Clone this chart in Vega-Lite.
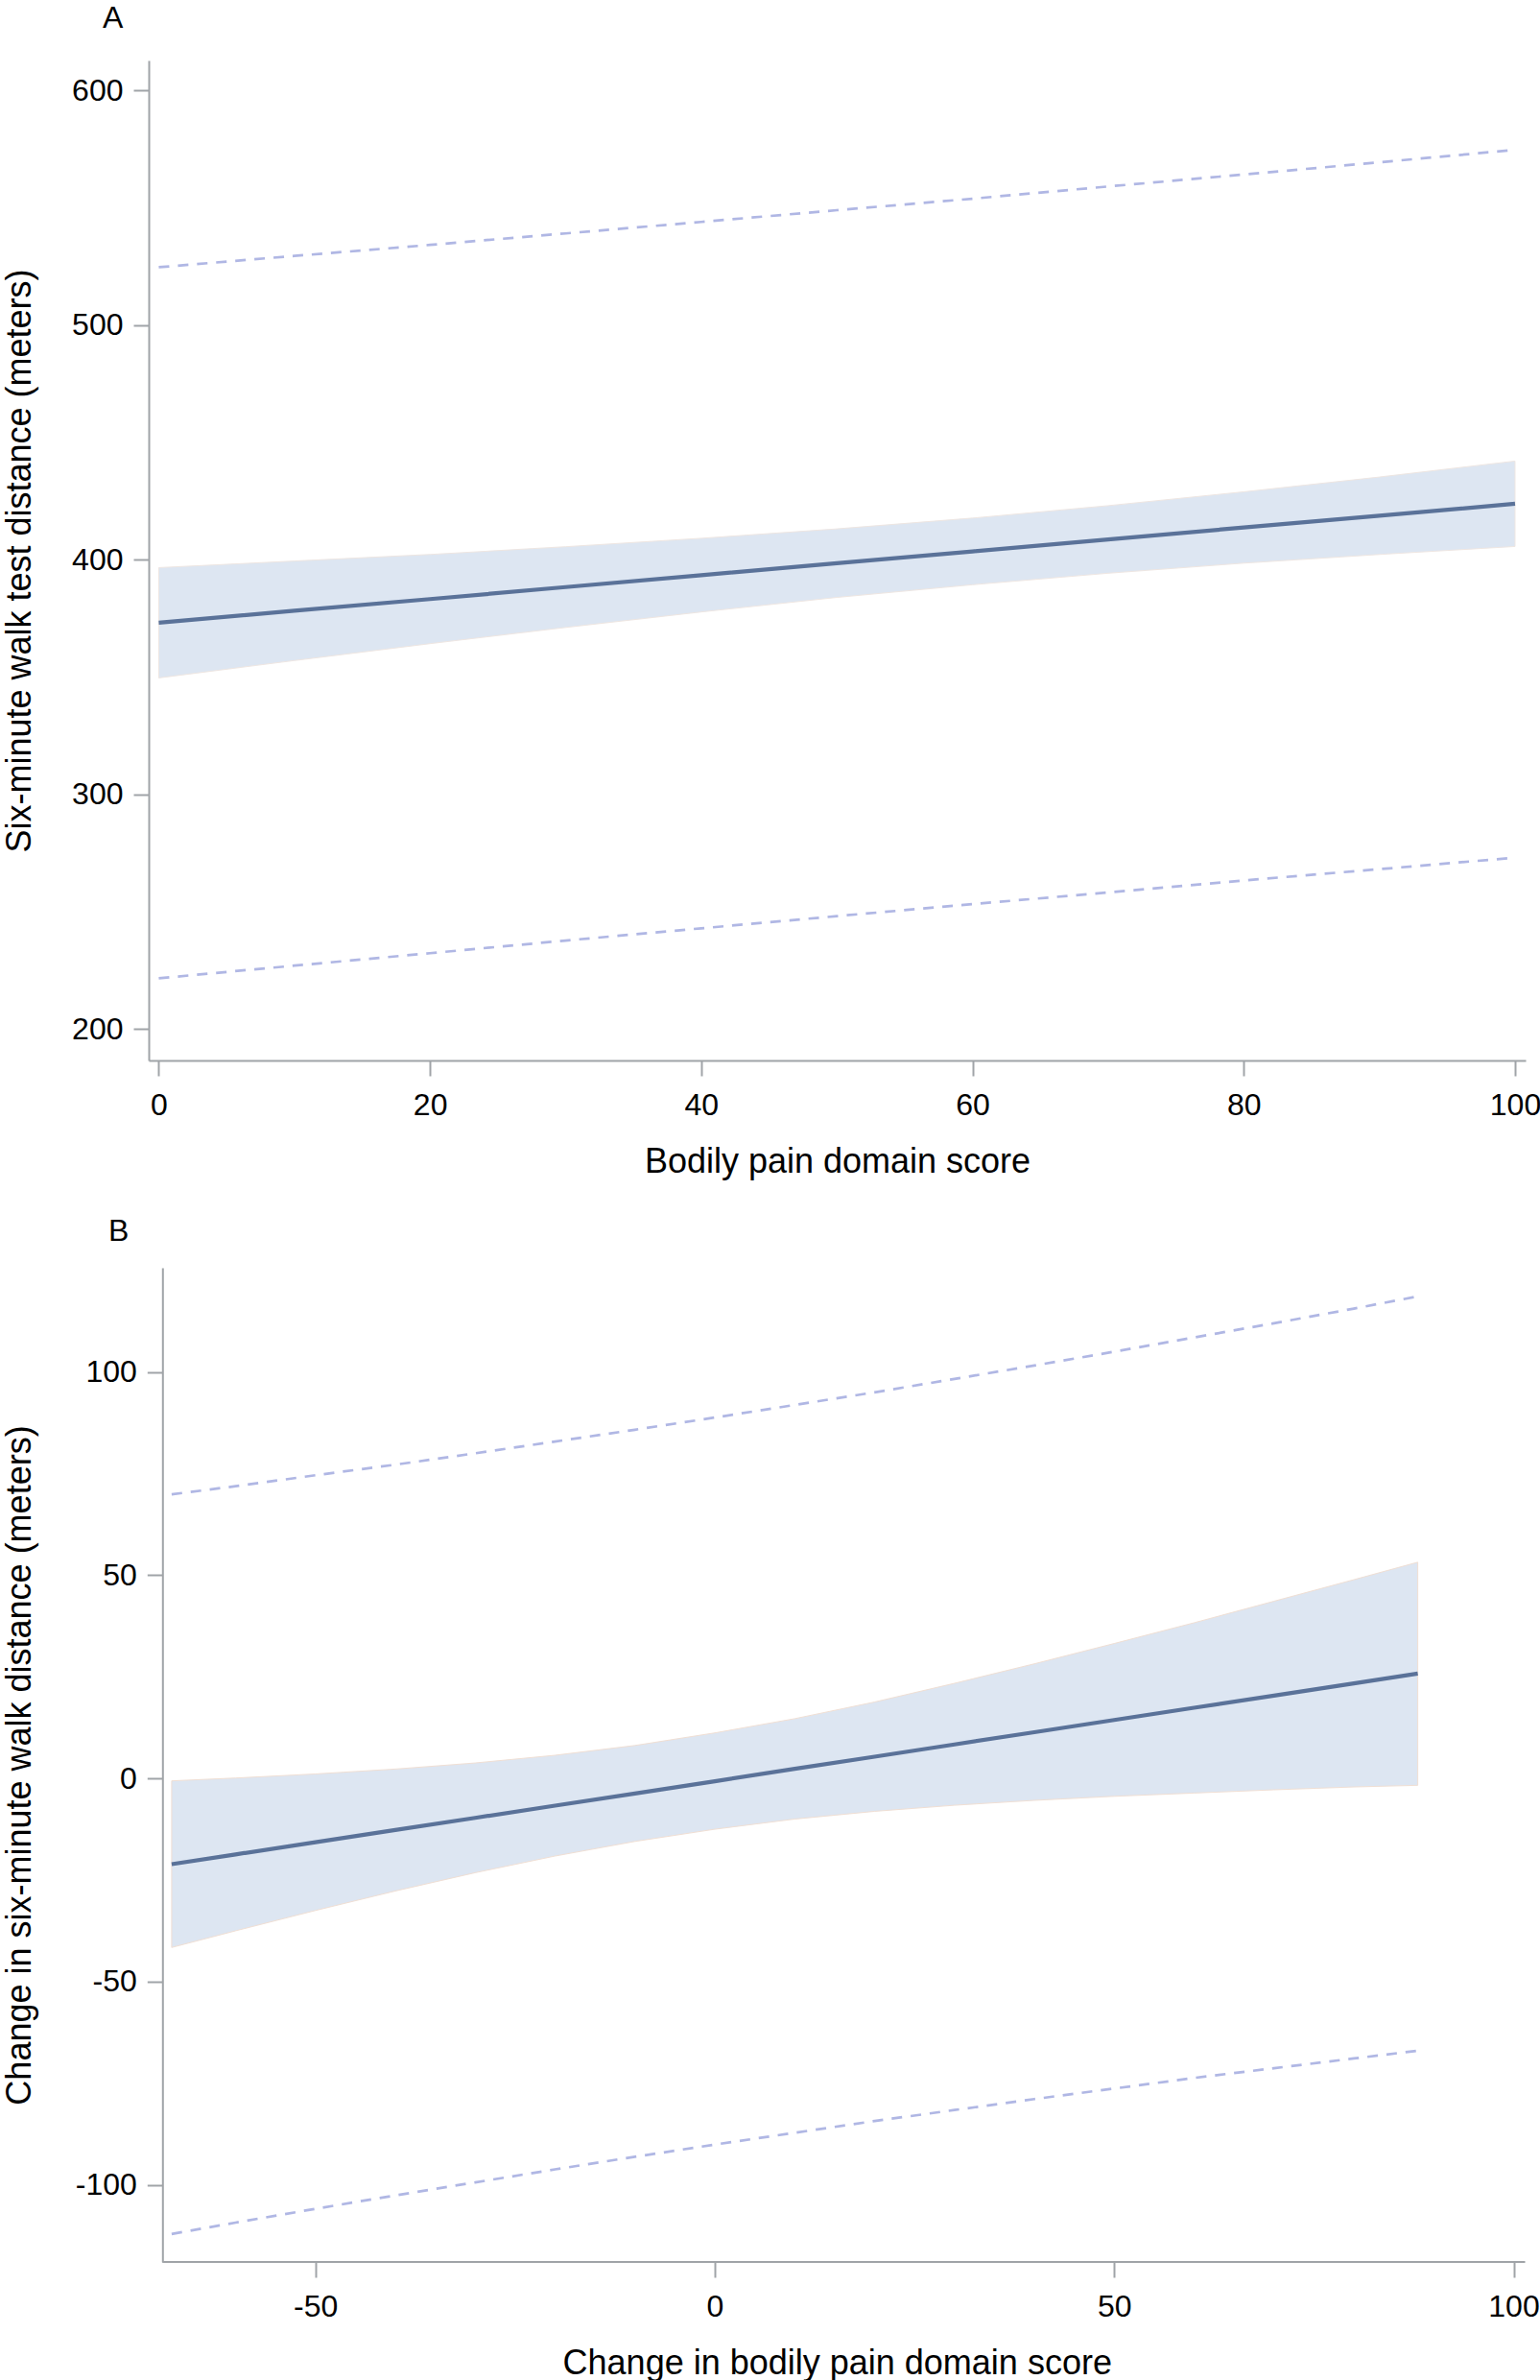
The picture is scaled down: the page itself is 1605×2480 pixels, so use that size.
{
  "$schema": "https://vega.github.io/schema/vega-lite/v6.json",
  "background": "white",
  "padding": {"left": 2, "top": 3, "right": 0, "bottom": 0},
  "autosize": {"type": "pad"},
  "spacing": 39,
  "config": {
    "view": {"stroke": null},
    "font": "Liberation Sans",
    "axis": {
      "grid": false,
      "domainColor": "#a0a4a8", "domainWidth": 2,
      "tickColor": "#a0a4a8", "tickWidth": 2, "tickSize": 16,
      "labelFont": "Liberation Sans", "labelFontSize": 32, "labelColor": "#000000",
      "titleFont": "Liberation Sans", "titleFontSize": 36, "titleFontWeight": "normal", "titleColor": "#000000"
    },
    "axisX": {"labelPadding": 15, "titlePadding": 26},
    "axisY": {"labelPadding": 11}
  },
  "vconcat": [
    {
      "width": 1435,
      "height": 1042,
      "title": {"text": "A", "font": "Liberation Sans", "fontSize": 32, "fontWeight": "normal", "color": "#000000", "anchor": "start", "frame": "group", "dx": -48, "offset": 27},
      "data": {"values": [
        {"x": 0, "fit": 373.1, "lo": 349.6, "hi": 396.6, "plo": 221.6, "phi": 524.6},
        {"x": 10, "fit": 378.2, "lo": 357.0, "hi": 399.4, "plo": 227.0, "phi": 529.4},
        {"x": 20, "fit": 383.2, "lo": 364.2, "hi": 402.2, "plo": 232.3, "phi": 534.1},
        {"x": 30, "fit": 388.3, "lo": 371.1, "hi": 405.5, "plo": 237.7, "phi": 539.0},
        {"x": 40, "fit": 393.4, "lo": 377.7, "hi": 409.1, "plo": 242.9, "phi": 543.9},
        {"x": 50, "fit": 398.5, "lo": 383.9, "hi": 413.1, "plo": 248.1, "phi": 548.9},
        {"x": 60, "fit": 403.5, "lo": 389.3, "hi": 417.7, "plo": 253.2, "phi": 553.8},
        {"x": 70, "fit": 408.6, "lo": 394.2, "hi": 423.0, "plo": 258.2, "phi": 559.0},
        {"x": 80, "fit": 413.7, "lo": 398.5, "hi": 428.9, "plo": 263.3, "phi": 564.1},
        {"x": 90, "fit": 418.7, "lo": 402.2, "hi": 435.2, "plo": 268.1, "phi": 569.3},
        {"x": 100, "fit": 423.8, "lo": 405.6, "hi": 442.0, "plo": 273.0, "phi": 574.6}
      ]},
      "encoding": {
        "x": {"field": "x", "type": "quantitative",
          "scale": {"domain": [-0.74, 100.78], "nice": false, "zero": false},
          "axis": {"values": [0, 20, 40, 60, 80, 100], "title": "Bodily pain domain score"}}
      },
      "layer": [
        {
          "mark": {"type": "area", "color": "#dde6f2", "stroke": "#eee6e2", "strokeWidth": 1},
          "encoding": {
            "y": {"field": "lo", "type": "quantitative", "title": "Six-minute walk test distance (meters)",
              "scale": {"domain": [186.6, 612.7], "nice": false, "zero": false},
              "axis": {"values": [200, 300, 400, 500, 600], "titlePadding": 35}},
            "y2": {"field": "hi"}
          }
        },
        {
          "mark": {"type": "line", "color": "#b0b7e4", "strokeWidth": 2.7, "strokeDash": [11, 9]},
          "encoding": {"y": {"field": "phi", "type": "quantitative", "title": "Six-minute walk test distance (meters)"}}
        },
        {
          "mark": {"type": "line", "color": "#b0b7e4", "strokeWidth": 2.7, "strokeDash": [11, 9]},
          "encoding": {"y": {"field": "plo", "type": "quantitative", "title": "Six-minute walk test distance (meters)"}}
        },
        {
          "mark": {"type": "line", "color": "#5a7299", "strokeWidth": 4.2},
          "encoding": {"y": {"field": "fit", "type": "quantitative", "title": "Six-minute walk test distance (meters)"}}
        }
      ]
    },
    {
      "width": 1434.5,
      "height": 1036,
      "title": {"text": "B", "font": "Liberation Sans", "fontSize": 32, "fontWeight": "normal", "color": "#000000", "anchor": "start", "frame": "group", "dx": -42, "offset": 21},
      "data": {"values": [
        {"x": -68, "fit": -21.1, "lo": -41.6, "hi": -0.6, "plo": -112.1, "phi": 69.9},
        {"x": -60, "fit": -18.7, "lo": -37.5, "hi": 0.1, "plo": -109.3, "phi": 71.9},
        {"x": -50, "fit": -15.7, "lo": -32.5, "hi": 1.1, "plo": -105.9, "phi": 74.6},
        {"x": -40, "fit": -12.7, "lo": -27.7, "hi": 2.3, "plo": -102.6, "phi": 77.2},
        {"x": -30, "fit": -9.7, "lo": -23.2, "hi": 3.8, "plo": -99.4, "phi": 80.0},
        {"x": -20, "fit": -6.7, "lo": -19.1, "hi": 5.7, "plo": -96.2, "phi": 82.9},
        {"x": -10, "fit": -3.7, "lo": -15.5, "hi": 8.1, "plo": -93.1, "phi": 85.8},
        {"x": 0, "fit": -0.7, "lo": -12.5, "hi": 11.2, "plo": -90.1, "phi": 88.8},
        {"x": 10, "fit": 2.35, "lo": -10.0, "hi": 14.7, "plo": -87.2, "phi": 91.9},
        {"x": 20, "fit": 5.35, "lo": -8.1, "hi": 18.8, "plo": -84.3, "phi": 95.0},
        {"x": 30, "fit": 8.36, "lo": -6.6, "hi": 23.4, "plo": -81.6, "phi": 98.3},
        {"x": 40, "fit": 11.36, "lo": -5.4, "hi": 28.2, "plo": -78.9, "phi": 101.6},
        {"x": 50, "fit": 14.37, "lo": -4.4, "hi": 33.2, "plo": -76.3, "phi": 105.0},
        {"x": 60, "fit": 17.38, "lo": -3.6, "hi": 38.3, "plo": -73.7, "phi": 108.5},
        {"x": 70, "fit": 20.38, "lo": -2.8, "hi": 43.6, "plo": -71.3, "phi": 112.0},
        {"x": 80, "fit": 23.39, "lo": -2.1, "hi": 48.9, "plo": -68.9, "phi": 115.6},
        {"x": 88, "fit": 25.79, "lo": -1.7, "hi": 53.2, "plo": -67.0, "phi": 118.6}
      ]},
      "layer": [
        {
          "mark": {"type": "area", "color": "#dde6f2", "stroke": "#f0dfd4", "strokeWidth": 1},
          "encoding": {
            "x": {"field": "x", "type": "quantitative",
              "scale": {"domain": [-70.87, 101.44], "nice": false, "zero": false},
              "axis": {"values": [-50, 0, 50, 100], "domain": false, "title": "Change in bodily pain domain score",
                "labelExpr": "datum.value < 0 ? '-' + abs(datum.value) : '' + datum.value"}},
            "y": {"field": "lo", "type": "quantitative", "title": "Change in six-minute walk distance (meters)",
              "scale": {"domain": [-118.98, 125.66], "nice": false, "zero": false},
              "axis": {"values": [-100, -50, 0, 50, 100], "titlePadding": 39, "offset": -14.3,
                "labelExpr": "datum.value < 0 ? '-' + abs(datum.value) : '' + datum.value"}},
            "y2": {"field": "hi"}
          }
        },
        {
          "mark": {"type": "line", "color": "#b0b7e4", "strokeWidth": 2.7, "strokeDash": [11, 9]},
          "encoding": {
            "x": {"field": "x", "type": "quantitative", "title": "Change in bodily pain domain score"},
            "y": {"field": "phi", "type": "quantitative", "title": "Change in six-minute walk distance (meters)"}}
        },
        {
          "mark": {"type": "line", "color": "#b0b7e4", "strokeWidth": 2.7, "strokeDash": [11, 9]},
          "encoding": {
            "x": {"field": "x", "type": "quantitative", "title": "Change in bodily pain domain score"},
            "y": {"field": "plo", "type": "quantitative", "title": "Change in six-minute walk distance (meters)"}}
        },
        {
          "mark": {"type": "line", "color": "#5a7299", "strokeWidth": 4.2},
          "encoding": {
            "x": {"field": "x", "type": "quantitative", "title": "Change in bodily pain domain score"},
            "y": {"field": "fit", "type": "quantitative", "title": "Change in six-minute walk distance (meters)"}}
        },
        {
          "data": {"values": [{"x0": -69.15, "x1": 101.44, "y0": -118.98}]},
          "mark": {"type": "rule", "color": "#a0a4a8", "strokeWidth": 2},
          "encoding": {
            "x": {"field": "x0", "type": "quantitative", "title": "Change in bodily pain domain score"},
            "x2": {"field": "x1"},
            "y": {"field": "y0", "type": "quantitative", "title": "Change in six-minute walk distance (meters)"}
          }
        }
      ]
    }
  ]
}
